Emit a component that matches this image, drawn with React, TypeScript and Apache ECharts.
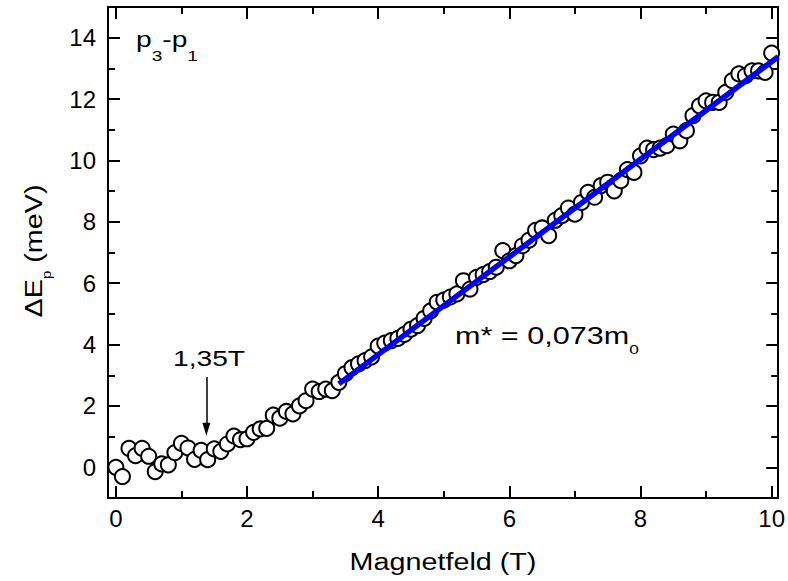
import React, { useEffect, useRef } from 'react';
import * as echarts from 'echarts';

// Magnetic field (T)
const fieldT = [
  0.0, 0.1, 0.2, 0.3, 0.4, 0.5, 0.6, 0.7, 0.8, 0.9,
  1.0, 1.1, 1.2, 1.3, 1.4, 1.5, 1.6, 1.7, 1.8, 1.9,
  2.0, 2.1, 2.2, 2.3, 2.4, 2.5, 2.6, 2.7, 2.8, 2.9,
  3.0, 3.1, 3.2, 3.3, 3.4, 3.5, 3.6, 3.7, 3.8, 3.9,
  4.0, 4.1, 4.2, 4.3, 4.4, 4.5, 4.6, 4.7, 4.8, 4.9,
  5.0, 5.1, 5.2, 5.3, 5.4, 5.5, 5.6, 5.7, 5.8, 5.9,
  6.0, 6.1, 6.2, 6.3, 6.4, 6.5, 6.6, 6.7, 6.8, 6.9,
  7.0, 7.1, 7.2, 7.3, 7.4, 7.5, 7.6, 7.7, 7.8, 7.9,
  8.0, 8.1, 8.2, 8.3, 8.4, 8.5, 8.6, 8.7, 8.8, 8.9,
  9.0, 9.1, 9.2, 9.3, 9.4, 9.5, 9.6, 9.7, 9.8, 9.9,
  10.0,
];

// Energy splitting ΔE_p (meV)
const deltaE = [
  0.0, -0.3, 0.62, 0.38, 0.62, 0.36, -0.14, 0.11, 0.08, 0.48,
  0.78, 0.63, 0.26, 0.55, 0.25, 0.6, 0.52, 0.76, 1.02, 0.9,
  0.93, 1.14, 1.25, 1.27, 1.7, 1.6, 1.82, 1.74, 2.0, 2.17,
  2.55, 2.47, 2.55, 2.5, 2.77, 3.05, 3.25, 3.37, 3.48, 3.6,
  3.95, 4.05, 4.13, 4.2, 4.33, 4.5, 4.62, 4.85, 5.1, 5.38,
  5.45, 5.55, 5.65, 6.08, 5.81, 6.19, 6.28, 6.38, 6.52, 7.06,
  6.73, 6.9, 7.22, 7.4, 7.72, 7.8, 7.55, 8.05, 8.2, 8.45,
  8.25, 8.63, 8.96, 8.8, 9.18, 9.29, 9.01, 9.34, 9.7, 9.61,
  10.15, 10.4, 10.35, 10.4, 10.48, 10.86, 10.64, 10.97, 11.46, 11.78,
  11.94, 11.89, 11.89, 12.22, 12.6, 12.82, 12.76, 12.92, 12.92, 12.87,
  13.5,
];

// Linear fit (m* = 0,073 m0)
const fitT = [3.4, 10.1];
const fitE = [2.72, 13.38];

// Arrow marking 1,35 T
const arrowT = [1.38, 1.38];
const arrowE = [2.94, 1.24];

const X_RANGE = [-0.12, 10.1];
const Y_RANGE = [-1, 15];
const xMajor = [0, 2, 4, 6, 8, 10];
const xMinor = [1, 3, 5, 7, 9];
const yMajor = [0, 2, 4, 6, 8, 10, 12, 14];
const yMinor = [1, 3, 5, 7, 9, 11, 13];

const FONT = 'Liberation Sans, Arial, sans-serif';
const STRETCH = 1.28;

function axisDef(kind: 'x' | 'y', position: string, ticks: number[], len: number, withLine: boolean, withLabels: boolean) {
  const range = kind === 'x' ? X_RANGE : Y_RANGE;
  return {
    type: 'value',
    position,
    min: range[0],
    max: range[1],
    axisLine: { show: withLine, onZero: false, lineStyle: { color: '#000', width: 2 } },
    axisTick: {
      show: true,
      inside: true,
      length: len,
      customValues: ticks,
      lineStyle: { color: '#000', width: 2 },
    },
    axisLabel: withLabels
      ? { show: true, customValues: ticks, color: '#000', fontSize: 24, fontFamily: FONT, margin: kind === 'x' ? 8 : 12 }
      : { show: false },
    splitLine: { show: false },
    minorTick: { show: false },
  };
}

export default function App() {
  const ref = useRef<HTMLDivElement>(null);
  useEffect(() => {
    if (!ref.current) return;
    const chart = echarts.init(ref.current, null, { renderer: 'svg' });
    const points = fieldT.map((t, i) => [t, deltaE[i]]);
    const fit = fitT.map((t, i) => [t, fitE[i]]);
    chart.setOption({
      animation: false,
      backgroundColor: '#fff',
      textStyle: { fontFamily: FONT },
      grid: { left: 108, right: 9, top: 7, bottom: 83 },
      xAxis: [
        axisDef('x', 'bottom', xMajor, 12, true, true),
        axisDef('x', 'bottom', xMinor, 7, false, false),
        axisDef('x', 'top', xMajor, 12, true, false),
        axisDef('x', 'top', xMinor, 7, false, false),
      ],
      yAxis: [
        axisDef('y', 'left', yMajor, 12, true, true),
        axisDef('y', 'left', yMinor, 7, false, false),
        axisDef('y', 'right', yMajor, 12, true, false),
        axisDef('y', 'right', yMinor, 7, false, false),
      ],
      series: [
        {
          type: 'scatter',
          xAxisIndex: 0,
          yAxisIndex: 0,
          data: points,
          symbol: 'circle',
          symbolSize: 15,
          itemStyle: { color: '#fff', borderColor: '#000', borderWidth: 2, opacity: 1 },
          markLine: {
            silent: true,
            symbol: ['none', 'triangle'],
            symbolSize: [0, 10],
            lineStyle: { color: '#000', width: 1.5, type: 'solid' },
            label: { show: false },
            data: [[
              { coord: [arrowT[0], arrowE[0]] },
              { coord: [arrowT[1], arrowE[1]], symbolSize: [8, 13] },
            ]],
          },
        },
        {
          type: 'line',
          xAxisIndex: 0,
          yAxisIndex: 0,
          data: fit,
          showSymbol: false,
          symbol: 'none',
          lineStyle: { color: '#0000ff', width: 5.5 },
        },
      ],
      graphic: [
        // x-axis title
        {
          type: 'text',
          x: 443,
          y: 562,
          scaleX: 1.25,
          style: {
            text: 'Magnetfeld (T)',
            fill: '#000',
            fontSize: 23,
            fontFamily: FONT,
            align: 'center',
            verticalAlign: 'middle',
          },
        },
        // y-axis title (rotated)
        {
          type: 'text',
          x: 35,
          y: 251,
          rotation: Math.PI / 2,
          scaleX: 1.25,
          style: {
            text: '{m|ΔE}{s|p}{m| (meV)}',
            align: 'center',
            verticalAlign: 'middle',
            fill: '#000',
            rich: {
              m: { fontSize: 23, fontFamily: FONT, fill: '#000', lineHeight: 24, verticalAlign: 'top' },
              s: { fontSize: 12, fontFamily: FONT, fill: '#000', lineHeight: 12, verticalAlign: 'top', padding: [18, 0, 0, 0] },
            },
          },
        },
        // panel label
        {
          type: 'text',
          x: 136,
          y: 28,
          scaleX: STRETCH,
          style: {
            text: '{m|p}{s|3}{m|-p}{s|1}',
            align: 'left',
            verticalAlign: 'top',
            fill: '#000',
            rich: {
              m: { fontSize: 22, fontFamily: FONT, fill: '#000', lineHeight: 22, verticalAlign: 'top' },
              s: { fontSize: 15, fontFamily: FONT, fill: '#000', lineHeight: 15, verticalAlign: 'top', padding: [20, 0, 0, 0] },
            },
          },
        },
        // 1,35T annotation
        {
          type: 'text',
          x: 209,
          y: 358,
          scaleX: STRETCH,
          style: {
            text: '1,35T',
            fill: '#000',
            fontSize: 22,
            fontFamily: FONT,
            align: 'center',
            verticalAlign: 'middle',
          },
        },
        // effective mass annotation
        {
          type: 'text',
          x: 455,
          y: 325,
          scaleX: 1.33,
          style: {
            text: '{m|m* = 0,073m}{s|0}',
            align: 'left',
            verticalAlign: 'top',
            fill: '#000',
            rich: {
              m: { fontSize: 23, fontFamily: FONT, fill: '#000', lineHeight: 23, verticalAlign: 'top' },
              s: { fontSize: 13, fontFamily: FONT, fill: '#000', lineHeight: 13, verticalAlign: 'top', padding: [18, 0, 0, 0] },
            },
          },
        },
      ],
    });
    return () => chart.dispose();
  }, []);
  return (
    <div
      ref={ref}
      style={{ position: 'fixed', left: 0, top: 0, width: 788, height: 581, background: '#fff' }}
    />
  );
}
